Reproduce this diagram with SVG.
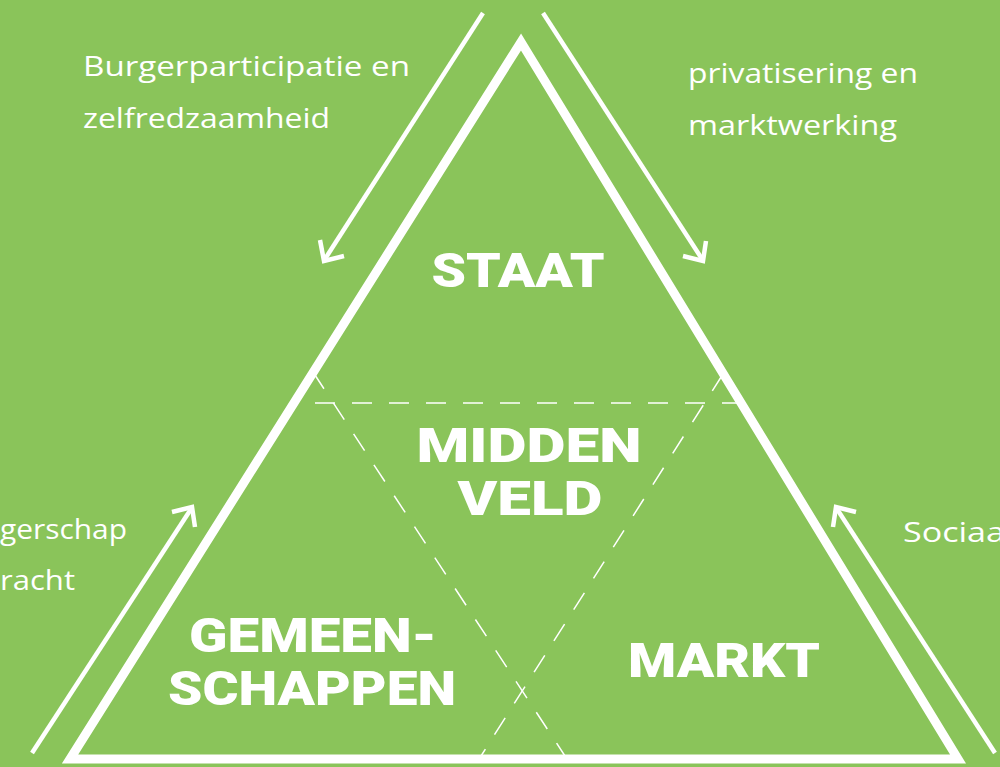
<svg xmlns="http://www.w3.org/2000/svg" width="1000" height="767" viewBox="0 0 1000 767">
<style>
.bg{fill:#8AC45A}
.tri{fill:none;stroke:#fff;stroke-width:9;stroke-linejoin:miter;stroke-miterlimit:20}
.dash{fill:none;stroke:#fff;stroke-width:1.5;stroke-dasharray:20 17}
.arr{fill:none;stroke:#fff;stroke-width:4.5;stroke-linecap:butt}
.head{fill:none;stroke:#fff;stroke-width:4.5;stroke-linejoin:miter}
.lbl{font-family:"Open Sans","Liberation Sans",sans-serif;font-size:28px;fill:#fff}
.big{font-family:Roboto,"Liberation Sans",sans-serif;font-weight:900;font-size:49px;fill:#fff;text-anchor:middle}
</style>
<rect class="bg" x="0" y="0" width="1000" height="767"/>
<g id="triangle">
<polygon class="tri" points="521,42 958,759 70,759"/>
</g>
<g id="connectors">
<line class="dash" x1="315" y1="403" x2="742" y2="403"/>
<line class="dash" x1="313" y1="372" x2="565" y2="756"/>
<line class="dash" x1="723" y1="374" x2="481" y2="756"/>
<line class="arr" x1="483" y1="13" x2="325" y2="259"/>
<polyline class="head" points="320,240 324,261 344,256"/>
<line class="arr" x1="543" y1="13" x2="702" y2="259"/>
<polyline class="head" points="706,241 703,261 683,256"/>
<line class="arr" x1="32" y1="753" x2="191" y2="509"/>
<polyline class="head" points="172,512 192,507 195,527"/>
<line class="arr" x1="995" y1="753" x2="837" y2="509"/>
<polyline class="head" points="856,512 836,507 833,527"/>
</g>
<g id="staat"><text class="big" x="518" y="287" textLength="173" lengthAdjust="spacingAndGlyphs">STAAT</text></g>
<g id="middenveld">
<text class="big" x="529" y="462" textLength="225" lengthAdjust="spacingAndGlyphs">MIDDEN</text>
<text class="big" x="530" y="515" textLength="145" lengthAdjust="spacingAndGlyphs">VELD</text>
</g>
<g id="gemeenschappen">
<text class="big" x="313" y="652" textLength="248" lengthAdjust="spacingAndGlyphs">GEMEEN-</text>
<text class="big" x="312" y="705" textLength="288" lengthAdjust="spacingAndGlyphs">SCHAPPEN</text>
</g>
<g id="markt"><text class="big" x="724" y="677" textLength="192" lengthAdjust="spacingAndGlyphs">MARKT</text></g>
<g id="labels">
<text class="lbl" x="83" y="76" textLength="327" lengthAdjust="spacingAndGlyphs">Burgerparticipatie  en</text>
<text class="lbl" x="83" y="128" textLength="247" lengthAdjust="spacingAndGlyphs">zelfredzaamheid</text>
<text class="lbl" x="688" y="83" textLength="230" lengthAdjust="spacingAndGlyphs">privatisering en</text>
<text class="lbl" x="688" y="135" textLength="209" lengthAdjust="spacingAndGlyphs">marktwerking</text>
<text class="lbl" x="0" y="539" textLength="127" lengthAdjust="spacingAndGlyphs">gerschap</text>
<text class="lbl" x="0" y="590" textLength="75" lengthAdjust="spacingAndGlyphs">racht</text>
<text class="lbl" x="903" y="542" textLength="102" lengthAdjust="spacingAndGlyphs">Sociaa</text>
</g>
</svg>
